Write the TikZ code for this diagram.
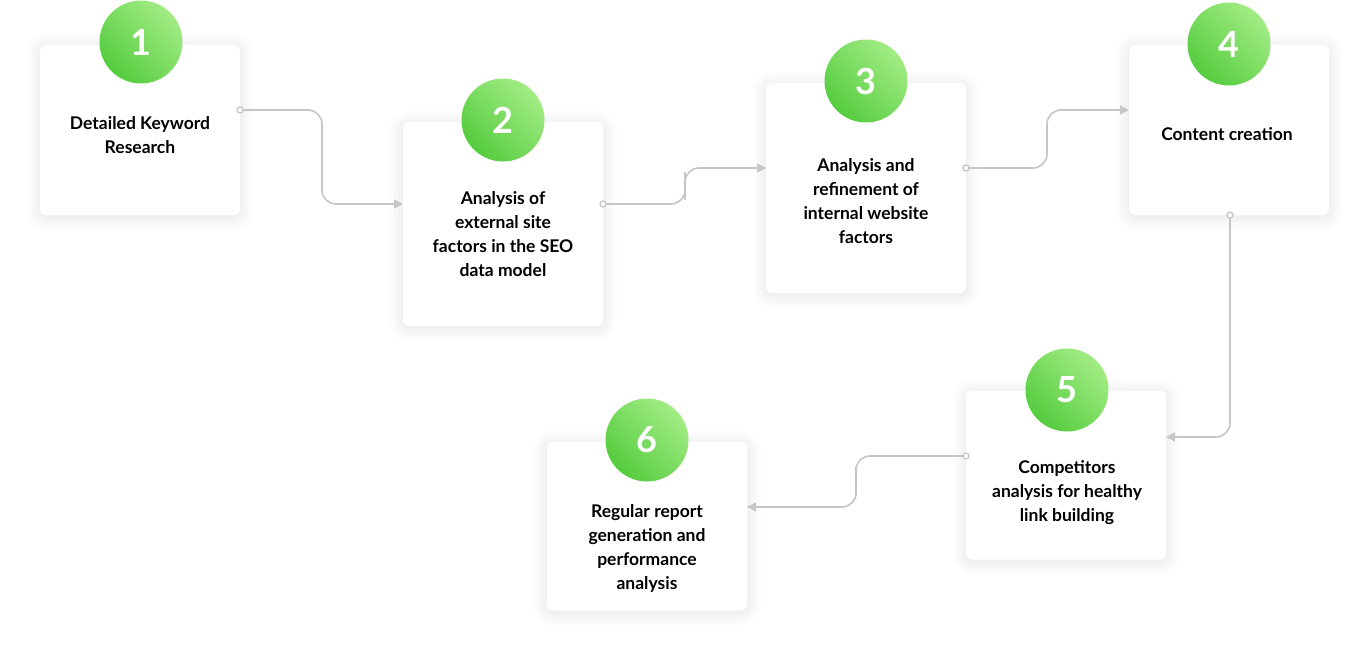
\documentclass[tikz,border=0pt]{standalone}
\usepackage{fontspec}
\setmainfont{Lato}
\usetikzlibrary{shadows.blur,arrows.meta}
\definecolor{gA}{HTML}{55CC3F}
\definecolor{gB}{HTML}{A2EC84}
\definecolor{ln}{HTML}{C8C6C4}
\tikzset{
  card/.style={draw=none,fill=white,rounded corners=6pt,minimum width=200pt,
    blur shadow={shadow blur steps=12,shadow xshift=0pt,shadow yshift=-2pt,shadow opacity=12,shadow blur radius=14pt}},
  numc/.style={circle,minimum size=83pt,inner sep=0pt,left color=gA,right color=gB,shading angle=135,
    text=white,font=\bfseries\fontsize{36}{36}\selectfont},
  lbl/.style={align=center,font=\bfseries\fontsize{17.5}{24}\selectfont,text=black},
  conn/.style={draw=ln,line width=1.6pt,rounded corners=14pt,-{Triangle[length=9pt,width=9pt]}},
  dot/.style={circle,draw=ln,fill=white,line width=1.3pt,inner sep=0pt,minimum size=6pt}
}
\begin{document}
\begin{tikzpicture}[x=1pt,y=-1pt]
\useasboundingbox (0,0) rectangle (1369,656);
% cards
\node[card,minimum height=170pt] (c1) at (140,130) {};
\node[card,minimum height=204pt] (c2) at (503,224) {};
\node[card,minimum height=210pt] (c3) at (866,188) {};
\node[card,minimum height=170pt] (c4) at (1229,130) {};
\node[card,minimum height=169pt] (c5) at (1066,475) {};
\node[card,minimum height=169pt] (c6) at (647,526) {};
% numbers
\node[numc] (n1) at (141,42) {\raisebox{-1pt}{1}};
\node[numc] (n2) at (503,120) {2};
\node[numc] (n3) at (866,81) {3};
\node[numc] (n4) at (1229,44) {4};
\node[numc] (n5) at (1067,390) {5};
\node[numc] (n6) at (647,440) {6};
% labels
\node[lbl] (t1) at (140,135) {Detailed Keyword\\Research};
\node[lbl] (t2) at (503,234) {Analysis of\\external site\\factors in the SEO\\data model};
\node[lbl] (t3) at (866,201) {Analysis and\\refinement of\\internal website\\factors};
\node[lbl] (t4) at (1227,134) {Content creation};
\node[lbl] (t5) at (1067,493) {Competitors\\analysis for healthy\\link building};
\node[lbl] (t6) at (647,548) {Regular report\\generation and\\performance\\analysis};
% connectors
\coordinate (s1) at (240,110); \coordinate (e1) at (403,204);
\coordinate (s2) at (603,204); \coordinate (e2) at (766,168);
\coordinate (s3) at (966,168); \coordinate (e3) at (1129,110);
\coordinate (s4) at (1230,215); \coordinate (e4) at (1166,437);
\coordinate (s5) at (966,456); \coordinate (e5) at (747,507);
\draw[conn] (s1) -| (322,157) |- (e1);
\draw[conn] (s2) -| (685,186) |- (e2);
\draw[conn] (s3) -| (1047,139) |- (e3);
\draw[conn] (s4) |- (e4);
\draw[conn] (s5) -| (856,481) |- (e5);
\foreach \p in {s1,s2,s3,s4,s5} \node[dot] at (\p) {};
\end{tikzpicture}
\end{document}
